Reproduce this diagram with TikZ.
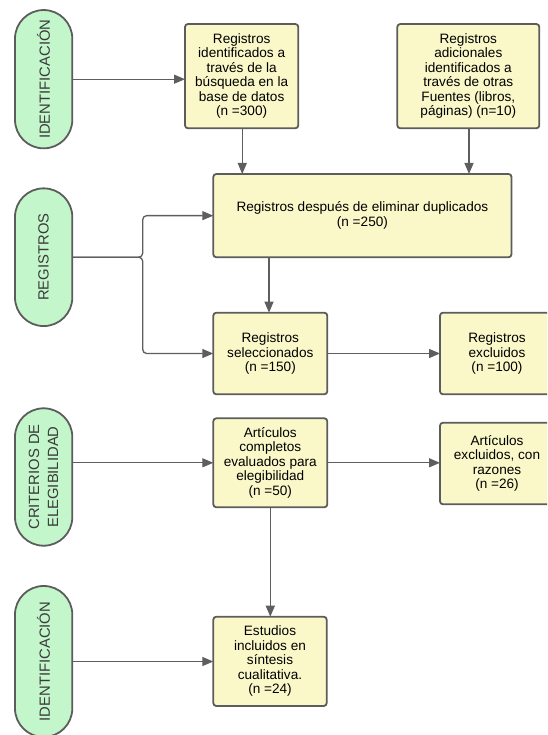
\documentclass[tikz,border=0pt]{standalone}
\usepackage{fontspec}
\setmainfont{Liberation Sans}
\usetikzlibrary{arrows.meta,calc}
\definecolor{boxfill}{HTML}{FAF8C9}
\definecolor{pillfill}{HTML}{C4F6CB}
\definecolor{edge}{HTML}{5C5C5C}
\definecolor{linec}{HTML}{5E5E5E}
\definecolor{pilltext}{HTML}{3A3A3A}
\tikzset{
  stepbox/.style={draw=edge, line width=1.8pt, fill=boxfill, rounded corners=3pt,
    rectangle, inner sep=0pt, outer sep=0pt, align=center,
    font=\fontsize{13.6}{14.5}\selectfont},
  pill/.style={draw=edge, line width=1.8pt, fill=pillfill, rectangle,
    rounded corners=28.6pt, inner sep=0pt, outer sep=0pt,
    minimum width=57.3pt},
  pilllabel/.style={rotate=90, align=center, text=pilltext, inner sep=0pt,
    font=\fontsize{14.8}{19}\selectfont},
  conn/.style={draw=linec, line width=1.3pt,
    -{Triangle[length=11pt,width=9pt]}},
}
\begin{document}
\begin{tikzpicture}[x=1pt,y=-1pt]
\path[use as bounding box] (0,0) rectangle (547,735);
\clip (0,0) rectangle (547,735);

% pills
\node[pill, minimum height=138.3pt] (p1) at (43.65,79.2) {};
\node[pilllabel] (t1) at (p1.center) {IDENTIFICACIÓN};
\node[pill, minimum height=137.7pt] (p2) at (43.65,257.2) {};
\node[pilllabel] (t2) at (p2.center) {REGISTROS};
\node[pill, minimum height=137.4pt] (p3) at (43.65,477) {};
\node[pilllabel] (t3) at (p3.center) {CRITERIOS DE\\ELEGIBILIDAD};
\node[pill, minimum height=151pt] (p4) at (43.65,661.5) {};
\node[pilllabel] (t4) at (p4.center) {IDENTIFICACIÓN};

% boxes
\node[stepbox, minimum width=113.3pt, minimum height=104.3pt] (A) at (241.65,76.15)
  {Registros\\identificados a\\través de la\\búsqueda en la\\base de datos\\(n =300)};
\node[stepbox, minimum width=142pt, minimum height=104.3pt] (B) at (468.3,76.15)
  {Registros\\adicionales\\identificados a\\través de otras\\Fuentes (libros,\\páginas) (n=10)};
\node[stepbox, minimum width=298.2pt, minimum height=83.3pt] (C) at (362.4,215.65)
  {Registros después de eliminar duplicados\\(n =250)};
\node[stepbox, minimum width=114pt, minimum height=81.6pt] (D) at (270.3,353.5)
  {Registros\\seleccionados\\(n =150)};
\node[stepbox, minimum width=114pt, minimum height=81.6pt] (E) at (497,353.5)
  {Registros\\excluidos\\(n =100)};
\node[stepbox, minimum width=114pt, minimum height=89pt] (F) at (270.3,462.8)
  {Artículos\\completos\\evaluados para\\elegibilidad\\(n =50)};
\node[stepbox, minimum width=114pt, minimum height=81.6pt] (G) at (497,463.5)
  {Artículos\\excluidos, con\\razones\\(n =26)};
\node[stepbox, minimum width=113.4pt, minimum height=89.3pt] (H) at (270,661.35)
  {Estudios\\incluidos en\\síntesis\\cualitativa.\\(n =24)};

% connectors
\draw[conn] (p1.east) -- (A.west |- p1.east);
\draw[conn] ([xshift=0.6pt]A.south) -- ([xshift=0.6pt]A.south |- C.north);
\draw[conn] ([xshift=0.7pt]B.south) -- ([xshift=0.7pt]B.south |- C.north);
\coordinate (br) at (142.7,257.2);
\draw[conn, rounded corners=4pt] (p2.east) -- (br) -- (br |- C.west) -- (C.west);
\draw[conn, rounded corners=4pt] (p2.east) -- (br) -- (br |- D.west) -- (D.west);
\draw[conn] ([xshift=-1.3pt]D.north |- C.south) -- ([xshift=-1.3pt]D.north);
\draw[conn] (D.east) -- (E.west);
\draw[conn] (p3.east |- F.west) -- (F.west);
\draw[conn] (F.east) -- (F.east -| G.west);
\draw[conn] (F.south) -- (F.south |- H.north);
\draw[conn] (p4.east) -- (H.west |- p4.east);
\end{tikzpicture}
\end{document}
